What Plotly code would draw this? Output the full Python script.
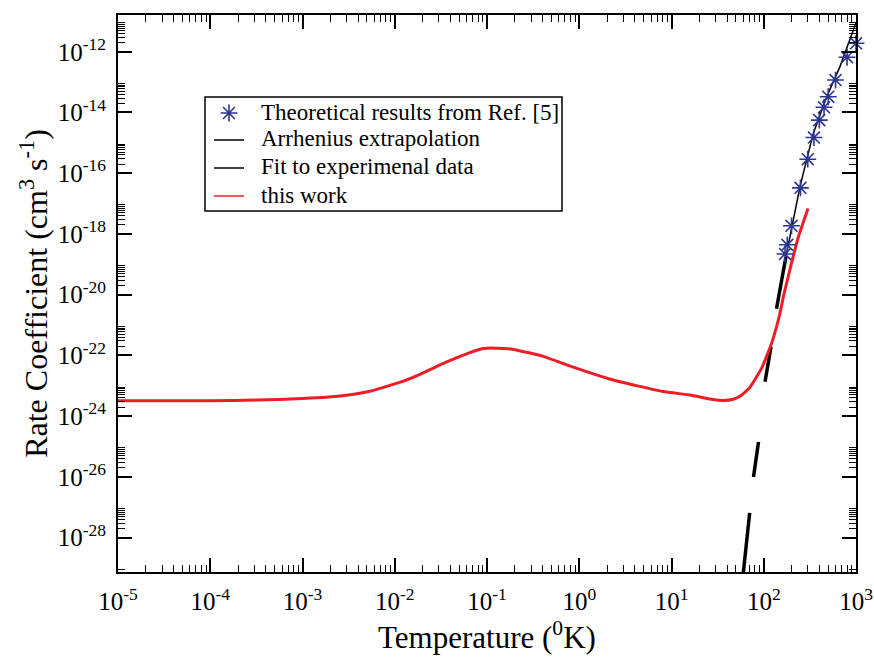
import plotly.graph_objects as go

# ---------------- data ----------------
# "this work" (red curve)
work_T = [1e-5, 1e-4, 3.16e-4, 1e-3, 1.8e-3, 3.16e-3, 5.4e-3, 7.9e-3, 1.15e-2, 1.88e-2,
          3.6e-2, 6.3e-2, 9.1e-2, 0.126, 0.193, 0.40, 0.73, 2.34, 8.1, 15.8,
          28.2, 36.3, 46.8, 56.2, 70.8, 95.5, 121.6, 150.0, 163.0, 193.0, 237.0, 302.0]
work_k = [3.24e-24, 3.24e-24, 3.39e-24, 3.80e-24, 4.17e-24, 5.0e-24, 6.6e-24, 9.3e-24, 1.32e-23, 2.40e-23,
          6.0e-23, 1.20e-22, 1.70e-22, 1.74e-22, 1.58e-22, 9.5e-23, 4.9e-23, 1.55e-23, 6.46e-24, 5.0e-24,
          3.55e-24, 3.31e-24, 3.63e-24, 4.7e-24, 8.9e-24, 3.98e-23, 2.5e-22, 2.45e-21, 8.5e-21, 7.1e-20, 7.9e-19, 6.9e-18]

# Theoretical results from Ref. [5] (stars)
ref_T = [170, 180, 200, 250, 300, 350, 400, 450, 500, 600, 800, 1000]
ref_k = [2.2e-19, 4.4e-19, 1.86e-18, 3.3e-17, 2.9e-16, 1.5e-15, 5.6e-15, 1.48e-14, 3.3e-14, 1.17e-13, 6.6e-13, 1.9e-12]

# Arrhenius extrapolation (thick dashed black)
arr_T = [60.0, 70.1, 77.4, 87.7, 103.2, 119.8, 137.4, 174.0]
arr_k = [6.8e-30, 6.5e-28, 1.0e-26, 1.41e-25, 1.35e-23, 1.9e-22, 3.4e-21, 1.78e-19]

# Fit to experimental data (thin black)
fit_T = [174, 247, 344, 481, 670, 975, 1000]
fit_k = [1.78e-19, 3.63e-17, 2.04e-15, 3.31e-14, 3.24e-13, 7.6e-12, 8.9e-12]

x_exponents = list(range(-5, 4))
y_exponents = list(range(-28, -11, 2))

legend_names = ["Theoretical results from Ref. [5]", "Arrhenius extrapolation",
                "Fit to experimenal data", "this work"]

# ---------------- styling ----------------
FONT = "Liberation Serif"
RED = "#ee1c25"
BLUE = "#2c3590"
W, H = 874, 657
ML, MR, MT, MB = 118, 18, 15, 85
PW, PH = W - ML - MR, H - MT - MB


def px_x(p):  # pixel -> paper x
    return (p - ML) / PW


def px_y(p):  # pixel -> paper y
    return (H - MB - p) / PH


x_tickvals = [10.0 ** e for e in x_exponents]
x_ticktext = [f"10<sup>{e}</sup>" for e in x_exponents]
y_tickvals = [10.0 ** e for e in y_exponents]
y_ticktext = [f"10<sup>{e}</sup>" for e in y_exponents]

x_minor = [m * 10.0 ** e for e in range(-5, 3) for m in range(2, 10)]
y_minor = [m * 10.0 ** e for e in range(-30, -10, 2) for m in range(2, 10)]

fig = go.Figure()

fig.add_trace(go.Scatter(
    x=arr_T, y=arr_k, mode="lines", showlegend=False, name=legend_names[1],
    line=dict(color="black", width=3.5,
              dash="60.6px,36.2px,35.4px,60.4px,35.5px,38.4px,80px,20px"),
))
fig.add_trace(go.Scatter(
    x=fit_T, y=fit_k, mode="lines", showlegend=False, name=legend_names[2],
    line=dict(color="black", width=1.5),
))
fig.add_trace(go.Scatter(
    x=work_T, y=work_k, mode="lines", showlegend=False, name=legend_names[3],
    line=dict(color=RED, width=3, shape="spline", smoothing=0.4),
))
fig.add_trace(go.Scatter(
    x=ref_T, y=ref_k, mode="markers", showlegend=False, name=legend_names[0],
    cliponaxis=False,
    marker=dict(symbol="asterisk-open", size=14, color=BLUE,
                line=dict(color=BLUE, width=1.6)),
))

# ---- legend box drawn by hand (to match row spacing of the reference) ----
row_y = [112, 139, 167, 195]
fig.add_shape(type="rect", xref="paper", yref="paper",
              x0=px_x(205), x1=px_x(562), y0=px_y(211), y1=px_y(97),
              line=dict(color="black", width=1.5), fillcolor="white", layer="below")
sample_colors = [None, "black", "black", RED]
for i in (1, 2, 3):
    fig.add_shape(type="line", xref="paper", yref="paper",
                  x0=px_x(214), x1=px_x(244), y0=px_y(row_y[i] + 1), y1=px_y(row_y[i] + 1),
                  line=dict(color=sample_colors[i], width=1.5), layer="above")
for i, name in enumerate(legend_names):
    fig.add_annotation(x=px_x(259), y=px_y(row_y[i]), xref="paper", yref="paper",
                       text=name, showarrow=False, xanchor="left", yanchor="middle",
                       font=dict(family=FONT, size=23, color="black"))
# legend star glyph on a hidden overlay axis pair spanning the plot area
fig.add_trace(go.Scatter(
    x=[px_x(229)], y=[px_y(113)], xaxis="x2", yaxis="y2", mode="markers",
    showlegend=False, hoverinfo="skip", cliponaxis=False,
    marker=dict(symbol="asterisk-open", size=14, color=BLUE,
                line=dict(color=BLUE, width=1.6)),
))

axis_common = dict(
    type="log", ticks="inside", ticklen=14, tickwidth=1.5, tickcolor="black",
    showline=True, linewidth=2, linecolor="black", mirror="ticks",
    showgrid=False, zeroline=False, automargin=False,
    tickfont=dict(family=FONT, size=25, color="black"),
)

fig.update_layout(
    template="none",
    width=W, height=H,
    margin=dict(l=ML, r=MR, t=MT, b=MB),
    paper_bgcolor="white", plot_bgcolor="white",
    font=dict(family=FONT, color="black"),
    showlegend=False,
    xaxis=dict(
        **axis_common, range=[-5, 3], tickmode="array",
        tickvals=x_tickvals, ticktext=x_ticktext, ticklabelstandoff=6,
        minor=dict(ticks="inside", ticklen=7, tickwidth=1, tickcolor="black",
                   tickmode="array", tickvals=x_minor, showgrid=False),
        title=dict(text="Temperature (<sup>0</sup>K)", font=dict(family=FONT, size=31), standoff=12),
    ),
    yaxis=dict(
        **axis_common, range=[-29.13, -10.79], tickmode="array",
        tickvals=y_tickvals, ticktext=y_ticktext, ticklabelstandoff=5,
        minor=dict(ticks="inside", ticklen=7, tickwidth=1, tickcolor="black",
                   tickmode="array", tickvals=y_minor, showgrid=False),
        title=dict(text="Rate Coefficient (cm<sup>3</sup> s<sup>-1</sup>)",
                   font=dict(family=FONT, size=32), standoff=0),
    ),
    xaxis2=dict(overlaying="x", range=[0, 1], visible=False, fixedrange=True),
    yaxis2=dict(overlaying="y", range=[0, 1], visible=False, fixedrange=True),
)

fig.write_html("out.html")
